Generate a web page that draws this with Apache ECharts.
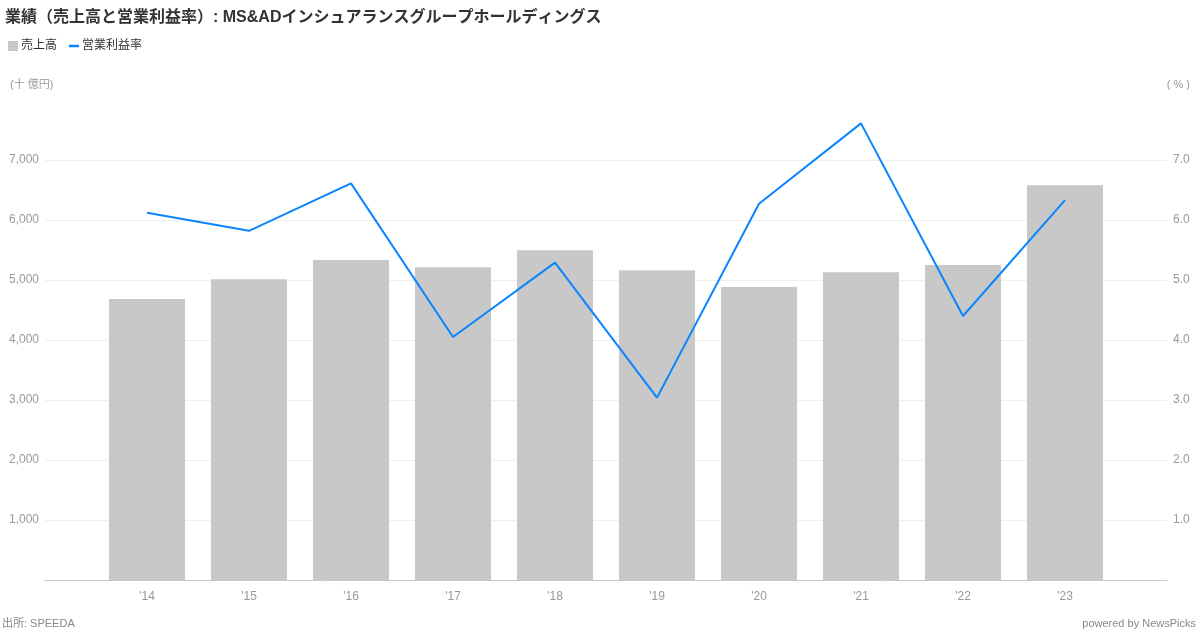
<!DOCTYPE html>
<html>
<head>
<meta charset="utf-8">
<script src="https://cdn.jsdelivr.net/npm/echarts@6/dist/echarts.min.js"></script>
<style>
  html, body { margin: 0; padding: 0; background: #fff; }
  #chart { width: 1200px; height: 630px; }
</style>
</head>
<body>
<div id="chart"></div>
<script>
const categories = ["'14", "'15", "'16", "'17", "'18", "'19", "'20", "'21", "'22", "'23"];
const sales = [4683, 5011, 5333, 5211, 5494, 5161, 4883, 5128, 5250, 6578];
const marginPct = [6.12, 5.82, 6.61, 4.05, 5.29, 3.04, 6.27, 7.61, 4.40, 6.33];
const leftTicks = { min: 0, max: 7000, interval: 1000 };
const rightTicks = { min: 0, max: 7, interval: 1 };

const FONT = "'Liberation Sans', 'Noto Sans CJK JP', sans-serif";
const pad = arr => [null].concat(arr, [null]);
const axisCats = [''].concat(categories, ['']);

const chart = echarts.init(document.getElementById('chart'), null, { renderer: 'canvas' });
chart.setOption({
  backgroundColor: '#ffffff',
  animation: false,
  textStyle: { fontFamily: FONT },
  title: {
    text: '業績（売上高と営業利益率）: MS&ADインシュアランスグループホールディングス',
    left: 0, top: 5,
    textStyle: { fontFamily: FONT, fontSize: 16, fontWeight: 'bold', color: '#333333' }
  },
  legend: {
    left: 3, top: 35,
    itemWidth: 10, itemHeight: 10, itemGap: 12,
    textStyle: { fontFamily: FONT, fontSize: 12, color: '#333333', padding: [0, 0, 0, -2] },
    data: [
      { name: '売上高', icon: 'rect' },
      { name: '営業利益率', icon: 'path://M0,4 L10,4 L10,6.5 L0,6.5 Z' }
    ]
  },
  grid: { left: 45, right: 33, top: 160, bottom: 50, containLabel: false },
  xAxis: {
    type: 'category',
    data: axisCats,
    boundaryGap: false,
    axisLine: { show: true, lineStyle: { color: '#c8c8c8', width: 1 } },
    axisTick: { show: false },
    axisLabel: { color: '#999999', fontSize: 12, margin: 11, fontFamily: FONT },
    splitLine: { show: false }
  },
  yAxis: [
    {
      type: 'value',
      min: leftTicks.min, max: leftTicks.max, interval: leftTicks.interval,
      axisLine: { show: false }, axisTick: { show: false },
      axisLabel: {
        color: '#999999', fontSize: 12, margin: 6, fontFamily: FONT,
        formatter: v => v === 0 ? '' : v.toLocaleString('en-US')
      },
      splitLine: { show: true, lineStyle: { color: '#eeeeee', width: 1 } }
    },
    {
      type: 'value',
      min: rightTicks.min, max: rightTicks.max, interval: rightTicks.interval,
      axisLine: { show: false }, axisTick: { show: false },
      axisLabel: {
        color: '#999999', fontSize: 12, margin: 6, fontFamily: FONT,
        formatter: v => v === 0 ? '' : v.toFixed(1)
      },
      splitLine: { show: false }
    }
  ],
  graphic: [
    { type: 'text', left: 10, top: 79, style: { text: '(十 億円)', fill: '#999999', font: '11px ' + FONT } },
    { type: 'text', right: 10, top: 79, style: { text: '( % )', fill: '#999999', font: '11px ' + FONT } },
    { type: 'text', left: 2, top: 618, style: { text: '出所: SPEEDA', fill: '#888888', font: '11px ' + FONT } },
    { type: 'text', right: 4, top: 618, style: { text: 'powered by NewsPicks', fill: '#888888', font: '11px ' + FONT } }
  ],
  series: [
    {
      name: '売上高',
      type: 'bar',
      yAxisIndex: 0,
      data: pad(sales),
      barWidth: 76,
      itemStyle: { color: '#c8c8c8' }
    },
    {
      name: '営業利益率',
      type: 'line',
      yAxisIndex: 1,
      data: pad(marginPct),
      clip: false,
      showSymbol: false,
      symbol: 'none',
      lineStyle: { color: '#0a84ff', width: 2 },
      itemStyle: { color: '#0a84ff' },
      z: 3
    }
  ]
});
</script>
</body>
</html>
